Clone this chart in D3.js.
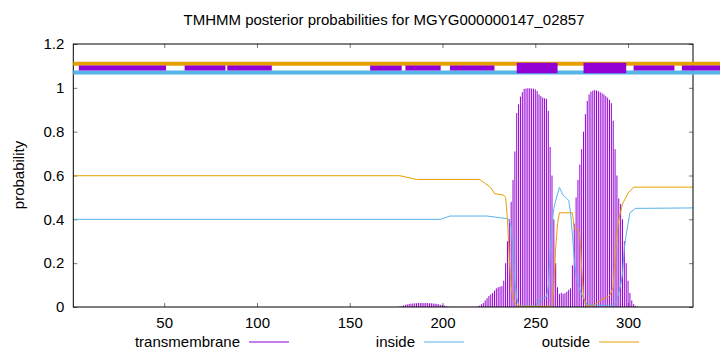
<!DOCTYPE html>
<html>
<head>
<meta charset="utf-8">
<script src="https://cdn.jsdelivr.net/npm/d3@7"></script>
<style>
  body { margin: 0; background: #fff; }
  svg { display: block; font-family: "Liberation Sans", Arial, sans-serif; }
</style>
</head>
<body>
<div id="chart"></div>
<script>
// sequence + axes
const seqLength = 335;
const xTicks = [50, 100, 150, 200, 250, 300];
const yTicks = [0, 0.2, 0.4, 0.6, 0.8, 1, 1.2];
const yTickLabels = ['0', '0.2', '0.4', '0.6', '0.8', '1', '1.2'];

// transmembrane posterior, one value per residue starting at tmFirst
const tmFirst = 176;
const tmProb = [
  0.001, 0.002, 0.004, 0.007, 0.010, 0.012, 0.014, 0.015, 0.016, 0.017,
  0.017, 0.018, 0.018, 0.018, 0.018, 0.018, 0.018, 0.017, 0.017, 0.016,
  0.015, 0.014, 0.012, 0.010, 0.008, 0.006, 0.004, 0.002,
  0.001, 0.001, 0.001, 0.001, 0.001, 0.001, 0.001, 0.001, 0.001, 0.001,
  0.001, 0.001, 0.001, 0.001, 0.001,
  0.003, 0.006, 0.012, 0.018, 0.030, 0.040, 0.050, 0.058, 0.064, 0.075,
  0.085, 0.090, 0.093, 0.095, 0.120, 0.200, 0.300, 0.400, 0.480, 0.580,
  0.710, 0.885, 0.925, 0.960, 0.980, 0.995, 0.997, 0.998, 0.998, 0.997,
  0.996, 0.993, 0.985, 0.970, 0.962, 0.955, 0.952, 0.950, 0.895, 0.730,
  0.600, 0.400, 0.200, 0.090, 0.060, 0.065, 0.060, 0.063, 0.070, 0.078,
  0.085, 0.190, 0.380, 0.500, 0.580, 0.650, 0.720, 0.800, 0.880, 0.940,
  0.970, 0.982, 0.987, 0.990, 0.988, 0.985, 0.980, 0.975, 0.970, 0.962,
  0.955, 0.945, 0.930, 0.850, 0.720, 0.600, 0.495, 0.470, 0.400, 0.300,
  0.200, 0.120, 0.064, 0.030, 0.013, 0.005, 0.002
];

// inside / outside posterior, read at the residues where the curve bends
const insideRes = [1, 199, 204, 224, 235, 236, 237, 238, 239, 240, 241, 242, 251, 252, 256, 257, 258, 259, 260, 261,
  263, 265, 267, 268, 269, 270, 271, 272, 274, 276, 278, 292, 294, 296, 297, 298, 299, 300, 301, 304, 335];
const insideProb = [0.4, 0.4, 0.415, 0.415, 0.403, 0.395, 0.37, 0.25, 0.12, 0.04, 0.01, 0.004, 0.004, 0.03, 0.047, 0.09, 0.245, 0.38, 0.45, 0.486,
  0.545, 0.51, 0.495, 0.486, 0.43, 0.33, 0.22, 0.14, 0.077, 0.04, 0.01, 0.005, 0.03, 0.1, 0.15, 0.27, 0.33, 0.38, 0.43, 0.45, 0.452];

const outsideRes = [1, 177, 186, 220, 226, 228, 233, 234, 235, 236, 237, 238, 239, 240, 242, 259, 260, 261, 262, 263,
  270, 271, 273, 274, 275, 276, 277, 278, 281, 285, 290, 292, 293, 294, 295, 297, 300, 303, 335];
const outsideProb = [0.599, 0.599, 0.582, 0.582, 0.545, 0.518, 0.51, 0.5, 0.4, 0.22, 0.09, 0.04, 0.02, 0.01, 0.003, 0.003, 0.1, 0.27, 0.38, 0.43,
  0.43, 0.36, 0.355, 0.33, 0.18, 0.05, 0.01, 0.005, 0.005, 0.03, 0.05, 0.09, 0.23, 0.33, 0.4, 0.47, 0.52, 0.547, 0.547];

// predicted topology bars along the top
const outsideSegs = [[1, 350]];
const insideSegs = [[1, 350]];
const tmThinSegs = [[4, 51], [61, 83], [84, 108], [161, 178], [180, 199], [204, 228], [303, 325], [329, 350]];
const tmThickSegs = [[240, 262], [276, 299]];

const purple = '#9400d3', blue = '#56b4e9', orange = '#e69f00';

const W = 720, H = 352;
const svg = d3.select('#chart').append('svg')
  .attr('width', W)
  .attr('height', H);

const x = d3.scaleLinear().domain([1, seqLength]).range([73.3, 693]);
const y = d3.scaleLinear().domain([0, 1.2]).range([307, 44]);

// title + y label
svg.append('text')
  .attr('x', 384).attr('y', 25)
  .attr('text-anchor', 'middle')
  .style('font-size', '15px')
  .text('TMHMM posterior probabilities for MGYG000000147_02857');

svg.append('text')
  .attr('transform', 'translate(24,175) rotate(-90)')
  .attr('text-anchor', 'middle')
  .style('font-size', '15px')
  .text('probability');

// axes, ticks pointing inwards like gnuplot
const gx = svg.append('g')
  .attr('transform', `translate(0,${y(0)})`)
  .call(d3.axisBottom(x).tickValues(xTicks).tickSize(-4).tickPadding(10));
const gy = svg.append('g')
  .attr('transform', `translate(${x(1)},0)`)
  .call(d3.axisLeft(y).tickValues(yTicks).tickFormat((d, i) => yTickLabels[i]).tickSize(-4).tickPadding(9));
const gxTop = svg.append('g')
  .attr('transform', `translate(0,${y(1.2)})`)
  .call(d3.axisTop(x).tickValues(xTicks).tickSize(-4).tickFormat(''));
const gyRight = svg.append('g')
  .attr('transform', `translate(${x(seqLength)},0)`)
  .call(d3.axisRight(y).tickValues(yTicks).tickSize(-4).tickFormat(''));

[gx, gy, gxTop, gyRight].forEach(g => {
  g.select('.domain').remove();
  g.selectAll('.tick line').attr('stroke', '#777');
  g.selectAll('text').style('font-size', '15px').attr('fill', '#000')
    .style('font-family', '"Liberation Sans", Arial, sans-serif');
});

// transmembrane impulses
svg.append('g')
  .selectAll('line')
  .data(tmProb)
  .enter()
  .append('line')
  .attr('x1', (d, i) => x(tmFirst + i))
  .attr('x2', (d, i) => x(tmFirst + i))
  .attr('y1', y(0))
  .attr('y2', d => y(d))
  .attr('stroke', purple)
  .attr('stroke-width', 1);

const line = d3.line()
  .x(d => x(d[0]))
  .y(d => y(d[1]));

svg.append('path')
  .attr('d', line(insideRes.map((r, i) => [r, insideProb[i]])))
  .attr('fill', 'none')
  .attr('stroke', blue)
  .attr('stroke-width', 1);

svg.append('path')
  .attr('d', line(outsideRes.map((r, i) => [r, outsideProb[i]])))
  .attr('fill', 'none')
  .attr('stroke', orange)
  .attr('stroke-width', 1);

// border
svg.append('rect')
  .attr('x', x(1)).attr('y', y(1.2))
  .attr('width', x(seqLength) - x(1))
  .attr('height', y(0) - y(1.2))
  .attr('fill', 'none')
  .attr('stroke', '#000')
  .attr('stroke-width', 1);

// topology bars (not clipped, they run past the frame)
function bars(segs, level, color, width) {
  svg.append('g')
    .selectAll('line')
    .data(segs)
    .enter()
    .append('line')
    .attr('x1', d => x(d[0]))
    .attr('x2', d => x(d[1]))
    .attr('y1', y(level))
    .attr('y2', y(level))
    .attr('stroke', color)
    .attr('stroke-width', width);
}
bars(outsideSegs, 1.11, orange, 4);
bars(insideSegs, 1.07, blue, 4);
bars(tmThinSegs, 1.09, purple, 5);
bars(tmThickSegs, 1.09, purple, 10.5);

// legend
const legend = [
  { name: 'transmembrane', color: purple, x: 240 },
  { name: 'inside', color: blue, x: 415 },
  { name: 'outside', color: orange, x: 590 }
];
const lg = svg.append('g');
legend.forEach(d => {
  lg.append('text')
    .attr('x', d.x).attr('y', 347)
    .attr('text-anchor', 'end')
    .style('font-size', '15px')
    .text(d.name);
  lg.append('line')
    .attr('x1', d.x + 9).attr('x2', d.x + 49)
    .attr('y1', 342).attr('y2', 342)
    .attr('stroke', d.color)
    .attr('stroke-width', 1);
});
</script>
</body>
</html>
